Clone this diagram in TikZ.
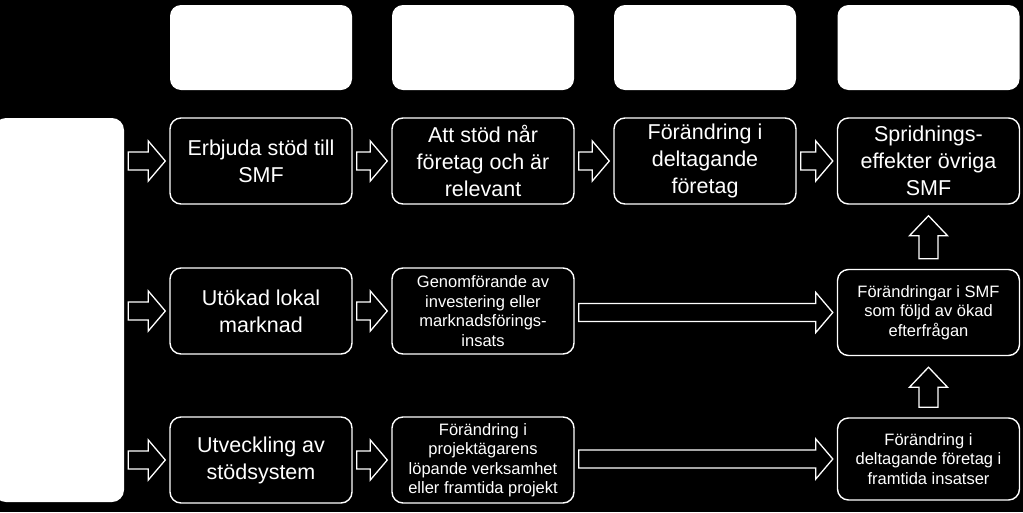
\documentclass[tikz,border=0pt]{standalone}
\usepackage{fontspec}
\setmainfont{Liberation Sans}
\usetikzlibrary{calc}

% block arrow to the right, at the height of the target
\newcommand{\blkright}[2]{%
  \draw[blk] let \p1=(#1.east), \p2=(#2.west) in
    (\x1+4,\y2+9) -- (\x2-21,\y2+9) -- (\x2-21,\y2+20) -- (\x2-4,\y2)
    -- (\x2-21,\y2-20) -- (\x2-21,\y2-9) -- (\x1+4,\y2-9) -- cycle;}
% block arrow upwards, under the target
\newcommand{\blkup}[2]{%
  \draw[blk] let \p1=(#1.north), \p2=(#2.south) in
    (\x2-9.5,\y1+10) -- (\x2-9.5,\y2-31) -- (\x2-19,\y2-31) -- (\x2,\y2-11)
    -- (\x2+19,\y2-31) -- (\x2+9.5,\y2-31) -- (\x2+9.5,\y1+10) -- cycle;}

\begin{document}
\begin{tikzpicture}[x=1pt,y=1pt,
    box/.style={draw=white,fill=black,line width=1.4pt,rounded corners=11pt,
      text=white,align=center,inner sep=0pt,minimum width=182pt,minimum height=86pt},
    head/.style={fill=white,rounded corners=11pt,inner sep=0pt,
      minimum width=182pt,minimum height=85pt},
    bigtxt/.style={font=\fontsize{21.5}{27}\selectfont},
    smalltxt/.style={font=\fontsize{16.5}{19.5}\selectfont},
    blk/.style={draw=white,fill=black,line width=1.3pt,line join=miter}]
   \fill[black] (0,0) rectangle (1023,-512);
   \useasboundingbox (0,0) rectangle (1023,-512);
   % column heads
   \node[head] (h1) at (261.0,-47.5) {};
   \node[head] (h2) at (483.0,-47.5) {};
   \node[head] (h3) at (705.0,-47.5) {};
   \node[head] (h4) at (928.5,-47.5) {};
   % left box
   \fill[white,rounded corners=12pt] (-6,-118) rectangle (124,-502);
   \node[inner sep=0pt,minimum width=130pt,minimum height=384pt] (src) at (59,-310) {};
   % row 1
   \node[box,bigtxt] (erb) at (261.0,-161) {Erbjuda stöd till\\SMF};
   \node[box,bigtxt] (nar) at (483.0,-161) {Att stöd når\\företag och är\\relevant};
   \node[box,bigtxt] (del) at (705.0,-161) {Förändring i\\deltagande\\företag};
   \node[box,bigtxt] (spr) at (928.5,-161) {Spridnings-\\effekter övriga\\SMF};
   % row 2
   \node[box,bigtxt] (lok) at (261.0,-311) {Utökad lokal\\marknad};
   \node[box,smalltxt] (gen) at (483.0,-311) {Genomförande av\\investering eller\\marknadsförings-\\insats};
   \node[box,smalltxt] (eft) at (928.5,-312.5) {Förändringar i SMF\\som följd av ökad\\efterfrågan};
   % row 3
   \node[box,bigtxt] (utv) at (261.0,-460) {Utveckling av\\stödsystem};
   \node[box,smalltxt] (prj) at (483.0,-460) {Förändring i\\projektägarens\\löpande verksamhet\\eller framtida projekt};
   \node[box,smalltxt,minimum height=82pt] (ins) at (928.5,-459) {Förändring i\\deltagande företag i\\framtida insatser};
   % arrows
   \blkright{src}{erb}
   \blkright{erb}{nar}
   \blkright{nar}{del}
   \blkright{del}{spr}
   \blkright{src}{lok}
   \blkright{lok}{gen}
   \blkright{gen}{eft}
   \blkright{src}{utv}
   \blkright{utv}{prj}
   \blkright{prj}{ins}
   \blkup{eft}{spr}
   \blkup{ins}{eft}
\end{tikzpicture}
\end{document}
